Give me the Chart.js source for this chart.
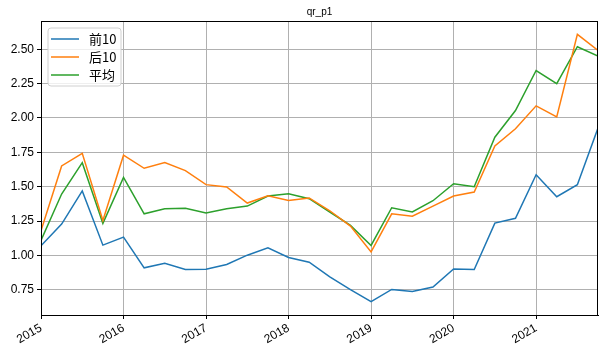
<!doctype html>
<html>
<head>
  <meta charset="utf-8">
  <title>qr_p1</title>
  <style>
    html, body { margin:0; padding:0; background:#fff; }
    #wrap { width:605px; height:352px; }
  </style>
  <script src="https://cdn.jsdelivr.net/npm/chart.js"></script>
</head>
<body>
  <div id="wrap"><canvas id="qr"></canvas></div>

  <script>
    // quarters as decimal years, 2015Q1 .. 2021Q4
    const quarters = [
      2015.0, 2015.25, 2015.5, 2015.75, 2016.0, 2016.25, 2016.5, 2016.75,
      2017.0, 2017.25, 2017.5, 2017.75, 2018.0, 2018.25, 2018.5, 2018.75,
      2019.0, 2019.25, 2019.5, 2019.75, 2020.0, 2020.25, 2020.5, 2020.75,
      2021.0, 2021.25, 2021.5, 2021.75
    ];
    const top10 = [
      1.07, 1.228, 1.469, 1.075, 1.133, 0.91, 0.944, 0.898,
      0.90, 0.934, 1.002, 1.055, 0.985, 0.951, 0.844, 0.752,
      0.665, 0.753, 0.738, 0.771, 0.902, 0.898, 1.235, 1.27,
      1.587, 1.427, 1.515, 1.926
    ];
    const bottom10 = [
      1.18, 1.651, 1.743, 1.255, 1.729, 1.634, 1.675, 1.617,
      1.515, 1.498, 1.381, 1.434, 1.40, 1.418, 1.325, 1.214,
      1.026, 1.303, 1.286, 1.359, 1.432, 1.461, 1.797, 1.921,
      2.088, 2.008, 2.608, 2.491
    ];
    const average = [
      1.11, 1.447, 1.675, 1.233, 1.568, 1.303, 1.34, 1.343,
      1.308, 1.34, 1.359, 1.432, 1.449, 1.413, 1.316, 1.219,
      1.073, 1.347, 1.316, 1.398, 1.522, 1.50, 1.86, 2.054,
      2.345, 2.25, 2.518, 2.45
    ];
    const seriesNames = ['前10', '后10', '平均'];
    const colors = ['#1f77b4', '#ff7f0e', '#2ca02c'];

    const tickFont = { family: '"Liberation Sans", Arial, sans-serif', size: 12 };
    const cjkFont = '"Noto Sans CJK SC", "Liberation Sans", sans-serif';

    function pts(vals) {
      return vals.map((v, i) => ({ x: quarters[i], y: v }));
    }

    // title, outer frame and in-plot legend
    const decor = {
      id: 'decor',
      afterDraw(chart) {
        const ctx = chart.ctx;
        const a = chart.chartArea;
        ctx.save();
        // frame
        ctx.strokeStyle = '#000';
        ctx.lineWidth = 1;
        ctx.strokeRect(Math.round(a.left) + 0.5, Math.round(a.top) + 0.5,
          Math.round(a.right - a.left) - 1, Math.round(a.bottom - a.top));
        // title
        ctx.fillStyle = '#000';
        ctx.font = '10px "Liberation Sans", Arial, sans-serif';
        ctx.textAlign = 'center';
        ctx.textBaseline = 'middle';
        ctx.fillText('qr_p1', (a.left + a.right) / 2, 12);
        // legend
        const bx = a.left + 7, by = a.top + 7, bw = 73, bh = 58;
        ctx.fillStyle = 'rgba(255,255,255,0.8)';
        ctx.strokeStyle = '#d0d0d0';
        ctx.beginPath();
        ctx.roundRect(bx, by, bw, bh, 3);
        ctx.fill();
        ctx.stroke();
        ctx.font = '13px ' + cjkFont;
        ctx.textAlign = 'left';
        chart.data.datasets.forEach((ds, i) => {
          const yy = by + 11 + i * 18;
          ctx.strokeStyle = ds.borderColor;
          ctx.lineWidth = 1.5;
          ctx.beginPath();
          ctx.moveTo(bx + 3, yy);
          ctx.lineTo(bx + 31, yy);
          ctx.stroke();
          ctx.fillStyle = '#000';
          ctx.fillText(ds.label, bx + 41, yy);
        });
        ctx.restore();
      }
    };

    new Chart(document.getElementById('qr'), {
      type: 'line',
      data: {
        datasets: [top10, bottom10, average].map((vals, i) => ({
          label: seriesNames[i],
          data: pts(vals),
          borderColor: colors[i],
          backgroundColor: colors[i],
          borderWidth: 1.5,
          pointRadius: 0,
          tension: 0,
          fill: false
        }))
      },
      options: {
        responsive: true,
        maintainAspectRatio: false,
        animation: false,
        layout: { padding: { top: 21, right: 7, left: 0, bottom: 0 } },
        plugins: {
          legend: { display: false },
          title: { display: false },
          tooltip: { enabled: false }
        },
        scales: {
          x: {
            type: 'linear',
            min: 2015,
            max: 2021.75,
            afterBuildTicks(s) { s.ticks = s.ticks.filter(t => Number.isInteger(t.value)); },
            afterFit(s) { s.height = 37; },
            ticks: {
              stepSize: 1,
              color: '#000',
              font: tickFont,
              padding: 2,
              maxRotation: 30,
              minRotation: 30,
              callback: v => String(v)
            },
            grid: { color: '#b0b0b0', lineWidth: 1, tickColor: '#000', tickLength: 4 },
            border: { display: true, color: '#000' }
          },
          y: {
            min: 0.567,
            max: 2.705,
            afterBuildTicks(s) {
              s.ticks = s.ticks.filter(t => Math.abs(t.value * 4 - Math.round(t.value * 4)) < 1e-6);
            },
            afterFit(s) { s.width = 41; },
            ticks: {
              stepSize: 0.25,
              color: '#000',
              font: tickFont,
              padding: 3,
              callback: v => v.toFixed(2)
            },
            grid: { color: '#b0b0b0', lineWidth: 1, tickColor: '#000', tickLength: 4 },
            border: { display: true, color: '#000' }
          }
        }
      },
      plugins: [decor]
    });
  </script>
</body>
</html>
